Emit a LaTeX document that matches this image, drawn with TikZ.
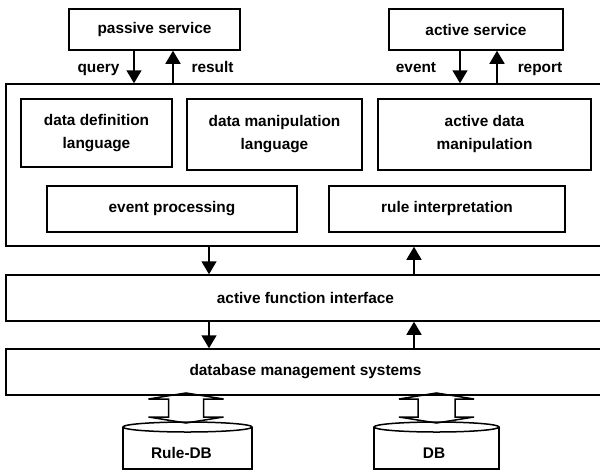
\documentclass[tikz,border=0pt]{standalone}
\usepackage{fontspec}
\setmainfont{Liberation Sans}
\usetikzlibrary{arrows.meta,positioning,calc}
\tikzset{
  box/.style={draw=black,line width=1.5pt,fill=white,align=center,inner sep=2pt,font=\bfseries\fontsize{15.4}{23}\selectfont},
  layer/.style={box,minimum width=599pt,minimum height=46pt},
  inbox/.style={box,minimum height=71pt},
  ar/.style={-{Triangle[width=15pt,length=13pt]},draw=black,line width=1.5pt},
  lbl/.style={anchor=base,inner sep=0pt,font=\bfseries\fontsize{15.4}{23}\selectfont},
  blk/.style={draw=black,line width=1.5pt,line join=miter},
}

\begin{document}
\begin{tikzpicture}[x=1pt,y=-1pt]
  \useasboundingbox (0,0) rectangle (600,472);
  \clip (0,0) rectangle (600,472);
  % services on top
  \node[box,minimum width=171pt,minimum height=41pt] (passive) at (154.5,29.5) {passive service};
  \node[box,minimum width=174pt,minimum height=41pt] (active) at (476,29.5) {active service};
  % core block
  \node[box,minimum width=599pt,minimum height=162pt] (core) at (305.5,165) {};
  \node[inbox,minimum width=151pt,minimum height=68pt] (ddl) at (96.5,133) {data definition\\language};
  \node[inbox,minimum width=175pt] (dml) at (274.5,134.5) {data manipulation\\language};
  \node[inbox,minimum width=213pt] (adm) at (484.5,134.5) {active data\\manipulation};
  \node[box,minimum width=250pt,minimum height=46pt] (evp) at (172,209) {event processing};
  \node[box,minimum width=236pt,minimum height=46pt] (rip) at (447,209) {rule interpretation};
  % layers
  \node[layer] (afi) at (305.5,298) {active function interface};
  \node[layer] (dbms) at (305.5,372) {database management systems};
  % arrows
  \coordinate (qx) at (134,0); \coordinate (rx) at (173,0);
  \coordinate (ex) at (460,0); \coordinate (px) at (497,0);
  \coordinate (dn) at (209,0); \coordinate (up) at (414,0);
  \draw[ar] (qx |- passive.south) -- (qx |- core.north);
  \draw[ar] (rx |- core.north) -- (rx |- passive.south);
  \draw[ar] (ex |- active.south) -- (ex |- core.north);
  \draw[ar] (px |- core.north) -- (px |- active.south);
  \draw[ar] (dn |- core.south) -- (dn |- afi.north);
  \draw[ar] (up |- afi.north) -- (up |- core.south);
  \draw[ar] (dn |- afi.south) -- (dn |- dbms.north);
  \draw[ar] (up |- dbms.north) -- (up |- afi.south);
  \node[lbl] (query) at (98.5,72) {query};
  \node[lbl] (result) at (212.5,72) {result};
  \node[lbl] (event) at (416,72) {event};
  \node[lbl] (report) at (540,72) {report};
  % databases
  \foreach \cx/\w in {187.5/64.5, 436.5/62.5} {
    \draw[blk] (\cx-\w,427) -- (\cx-\w,469) -- (\cx+\w,469) -- (\cx+\w,427);
    \draw[blk,fill=white] (\cx,427) ellipse [x radius=\w, y radius=5];
  }
  \node[lbl,anchor=center] (ruledb) at (181.5,452.5) {Rule-DB};
  \node[lbl,anchor=center] (db) at (434,453) {DB};
  % two-way block arrows
  \foreach \cx/\sw in {186/17.5, 436.5/18.5} {
    \draw[blk] (\cx,393) -- (\cx+37.5,399) -- (\cx+\sw,399) -- (\cx+\sw,417) -- (\cx+37.5,417)
      -- (\cx,423) -- (\cx-37.5,417) -- (\cx-\sw,417) -- (\cx-\sw,399) -- (\cx-37.5,399) -- cycle;
  }
\end{tikzpicture}
\end{document}
